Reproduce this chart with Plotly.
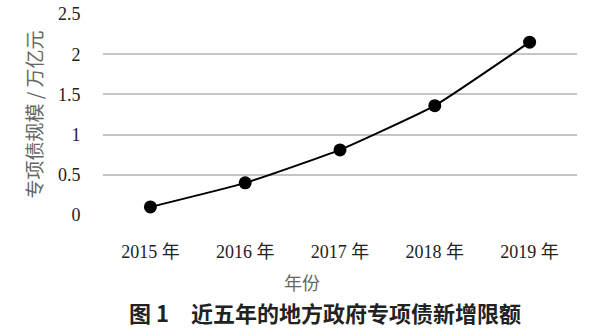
import plotly.graph_objects as go

years = ["2015 年", "2016 年", "2017 年", "2018 年", "2019 年"]
values = [0.1, 0.4, 0.81, 1.36, 2.15]
y_ticks = [0, 0.5, 1, 1.5, 2, 2.5]
y_tick_labels = ["0", "0.5", "1", "1.5", "2", "2.5"]

serif = "Liberation Serif, Times New Roman, Noto Sans CJK SC, serif"
cjk = "Noto Sans CJK SC, sans-serif"

fig = go.Figure()
fig.add_trace(go.Scatter(
    x=years, y=values, mode="lines+markers",
    line=dict(color="black", width=2, shape="spline", smoothing=0.4),
    marker=dict(color="black", size=13),
    showlegend=False,
))

fig.update_layout(
    width=600, height=332,
    margin=dict(l=103, r=23, t=14, b=117),
    paper_bgcolor="white", plot_bgcolor="white",
    xaxis=dict(
        type="category", range=[-0.5, 4.5], automargin=False,
        showgrid=False, showline=False, zeroline=False,
        ticks="outside", ticklen=20, tickcolor="rgba(0,0,0,0)",
        tickfont=dict(family=serif, size=18, color="#222"),
    ),
    yaxis=dict(
        range=[0, 2.5], tickvals=y_ticks, ticktext=y_tick_labels, automargin=False,
        showgrid=True, gridcolor="#c4c4c4", gridwidth=1.5,
        showline=False, zeroline=False,
        ticks="outside", ticklen=18, tickcolor="rgba(0,0,0,0)",
        tickfont=dict(family=serif, size=18, color="#222"),
        title=dict(text="专项债规模 / 万亿元", font=dict(family=cjk, size=19, color="#666"), standoff=10),
    ),
    annotations=[
        dict(
            text="年份",
            xref="paper", yref="paper", x=(302 - 103) / 474, y=-(282 - 215) / 201,
            xanchor="center", yanchor="middle", showarrow=False,
            font=dict(family=cjk, size=18, color="#666"),
        ),
        dict(
            text="图 1　近五年的地方政府专项债新增限额",
            xref="paper", yref="paper", x=(325 - 103) / 474, y=-(312 - 215) / 201,
            xanchor="center", yanchor="middle", showarrow=False,
            font=dict(family=cjk, size=22, color="#222", weight="bold"),
        ),
    ],
)

fig.write_html("out.html")
